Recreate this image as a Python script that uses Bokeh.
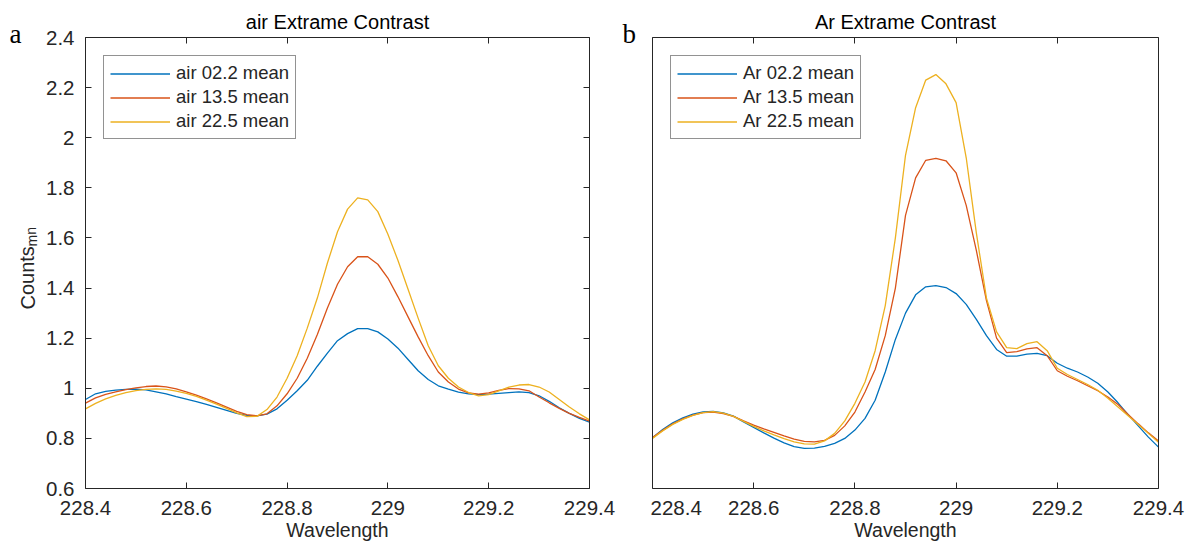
from bokeh.plotting import figure
from bokeh.layouts import row
from bokeh.models import (LinearAxis, FixedTicker, CustomJSTickFormatter, Label,
                          Range1d, Legend, LegendItem)
from bokeh.embed import file_html
from bokeh.resources import INLINE

# ---------------- data ----------------
wavelength = [228.40, 228.42, 228.44, 228.46, 228.48, 228.50, 228.52, 228.54, 228.56, 228.58,
              228.60, 228.62, 228.64, 228.66, 228.68, 228.70, 228.72, 228.74, 228.76, 228.78,
              228.80, 228.82, 228.84, 228.86, 228.88, 228.90, 228.92, 228.94, 228.96, 228.98,
              229.00, 229.02, 229.04, 229.06, 229.08, 229.10, 229.12, 229.14, 229.16, 229.18,
              229.20, 229.22, 229.24, 229.26, 229.28, 229.30, 229.32, 229.34, 229.36, 229.38, 229.40]

air_022 = [0.955, 0.978, 0.988, 0.993, 0.996, 0.997, 0.994, 0.986, 0.978, 0.967,
           0.957, 0.947, 0.936, 0.924, 0.912, 0.900, 0.892, 0.890, 0.897, 0.918,
           0.952, 0.990, 1.032, 1.088, 1.140, 1.190, 1.218, 1.238, 1.238, 1.225,
           1.197, 1.160, 1.115, 1.070, 1.035, 1.010, 0.997, 0.985, 0.978, 0.975,
           0.977, 0.980, 0.983, 0.986, 0.983, 0.970, 0.948, 0.922, 0.900, 0.880, 0.865]
air_135 = [0.941, 0.962, 0.976, 0.986, 0.995, 1.002, 1.007, 1.009, 1.006, 0.998,
           0.986, 0.973, 0.958, 0.942, 0.925, 0.908, 0.895, 0.890, 0.898, 0.930,
           0.978, 1.040, 1.120, 1.215, 1.320, 1.415, 1.485, 1.525, 1.525, 1.495,
           1.440, 1.365, 1.285, 1.205, 1.130, 1.065, 1.025, 0.997, 0.982, 0.977,
           0.982, 0.992, 0.999, 0.998, 0.990, 0.965, 0.942, 0.920, 0.900, 0.884, 0.869]
air_225 = [0.918, 0.940, 0.958, 0.972, 0.983, 0.991, 0.996, 0.998, 0.996, 0.989,
           0.980, 0.968, 0.953, 0.937, 0.920, 0.902, 0.887, 0.888, 0.915, 0.965,
           1.040, 1.130, 1.240, 1.360, 1.500, 1.625, 1.715, 1.760, 1.752, 1.705,
           1.615, 1.510, 1.395, 1.280, 1.170, 1.090, 1.040, 1.005, 0.983, 0.970,
           0.975, 0.990, 1.005, 1.013, 1.015, 1.005, 0.985, 0.955, 0.925, 0.898, 0.874]

ar_022 = [0.803, 0.835, 0.862, 0.882, 0.897, 0.906, 0.908, 0.902, 0.889, 0.866,
          0.844, 0.822, 0.801, 0.782, 0.767, 0.760, 0.761, 0.768, 0.780, 0.800,
          0.833, 0.880, 0.952, 1.065, 1.195, 1.300, 1.373, 1.405, 1.410, 1.402,
          1.378, 1.335, 1.275, 1.210, 1.155, 1.128, 1.128, 1.136, 1.139, 1.130,
          1.100, 1.080, 1.065, 1.045, 1.020, 0.985, 0.942, 0.895, 0.850, 0.805, 0.765]
ar_135 = [0.803, 0.832, 0.858, 0.878, 0.893, 0.903, 0.905, 0.899, 0.888, 0.870,
          0.853, 0.838, 0.824, 0.810, 0.797, 0.788, 0.786, 0.792, 0.812, 0.850,
          0.905, 0.985, 1.075, 1.210, 1.400, 1.690, 1.840, 1.910, 1.918, 1.908,
          1.860, 1.730, 1.550, 1.350, 1.200, 1.142, 1.146, 1.157, 1.162, 1.130,
          1.070, 1.048, 1.030, 1.010, 0.990, 0.965, 0.935, 0.895, 0.858, 0.822, 0.790]
ar_225 = [0.800, 0.830, 0.856, 0.876, 0.892, 0.903, 0.907, 0.901, 0.888, 0.868,
          0.848, 0.830, 0.814, 0.799, 0.786, 0.778, 0.777, 0.790, 0.820, 0.870,
          0.940, 1.025, 1.150, 1.330, 1.600, 1.930, 2.120, 2.230, 2.252, 2.215,
          2.140, 1.920, 1.620, 1.360, 1.225, 1.162, 1.158, 1.178, 1.186, 1.150,
          1.080, 1.055, 1.035, 1.015, 0.992, 0.960, 0.925, 0.890, 0.855, 0.820, 0.785]

x_ticks = [228.4, 228.6, 228.8, 229.0, 229.2, 229.4]
y_ticks = [0.6, 0.8, 1.0, 1.2, 1.4, 1.6, 1.8, 2.0, 2.2, 2.4]

air_names = ["air 02.2 mean", "air 13.5 mean", "air 22.5 mean"]
ar_names = ["Ar 02.2 mean", "Ar 13.5 mean", "Ar 22.5 mean"]
titles = ["air Extrame Contrast", "Ar Extrame Contrast"]
panel_letters = ["a", "b"]
y_label = ["Counts", "mn"]
x_label = "Wavelength"
colors = ["#0072BD", "#D95319", "#EDB120"]

FONT = "Liberation Sans"
AX = "#262626"
FRAME_W = [504, 506]
FRAME_H = 451
TOP, BOTTOM = 37, 58
H = TOP + FRAME_H + BOTTOM

num_fmt = CustomJSTickFormatter(code="return String(Math.round(tick*10)/10);")


def blank():
    return CustomJSTickFormatter(code="return '';")


def style_axis(ax, ticks, show_labels, show_ticks=True):
    ax.ticker = FixedTicker(ticks=ticks if show_ticks else [])
    ax.formatter = num_fmt if show_labels else blank()
    ax.axis_line_color = AX
    ax.axis_line_width = 1
    ax.major_tick_line_color = AX
    ax.major_tick_in = 6
    ax.major_tick_out = 0
    ax.minor_tick_line_color = None
    ax.major_label_text_font = FONT
    ax.major_label_text_font_size = "20.5px" if show_labels else "0px"
    ax.major_label_standoff = 0
    ax.major_label_text_color = AX
    ax.axis_label_text_font = FONT
    ax.axis_label_text_font_size = "19.5px"
    ax.axis_label_text_font_style = "normal"
    ax.axis_label_text_color = AX


def side_strip(width, letter, letter_x):
    """Narrow strip whose y data units equal page pixels; holds the panel letter."""
    f = figure(width=width, height=H, x_range=Range1d(0, width),
               y_range=Range1d(TOP + FRAME_H, TOP),
               output_backend="svg", toolbar_location=None,
               min_border_left=0, min_border_right=0,
               min_border_top=TOP, min_border_bottom=BOTTOM,
               x_axis_location=None, y_axis_location=None)
    f.outline_line_color = None
    f.xgrid.visible = False
    f.ygrid.visible = False
    f.background_fill_color = "white"
    f.border_fill_color = "white"
    f.title.text = letter
    f.title.align = "left"
    f.title.offset = letter_x
    f.title.vertical_align = "bottom"
    f.title.standoff = -22
    f.title.text_font = "Liberation Serif"
    f.title.text_font_size = "27px"
    f.title.text_font_style = "normal"
    f.title.text_color = "#000000"
    return f


def make_panel(idx, series, names, left_border, right_border, show_y):
    p = figure(frame_width=FRAME_W[idx], frame_height=FRAME_H,
               x_range=Range1d(228.4, 229.4), y_range=Range1d(0.6, 2.4),
               output_backend="svg", toolbar_location=None,
               min_border_left=left_border, min_border_right=right_border,
               min_border_top=TOP, min_border_bottom=BOTTOM,
               x_axis_location=None, y_axis_location=None)
    p.outline_line_color = None
    p.xgrid.visible = False
    p.ygrid.visible = False
    p.background_fill_color = "white"
    p.border_fill_color = "white"

    p.title.text = titles[idx]
    p.title.align = "center"
    p.title.text_font = FONT
    p.title.text_font_size = "20px"
    p.title.text_font_style = "normal"
    p.title.text_color = "#000000"
    p.title.standoff = 10

    bottom = LinearAxis(axis_label=x_label)
    style_axis(bottom, x_ticks, True)
    bottom.major_label_standoff = 12
    bottom.axis_label_standoff = 1
    p.add_layout(bottom, "below")
    top = LinearAxis()
    style_axis(top, x_ticks, False)
    p.add_layout(top, "above")
    left = LinearAxis()
    style_axis(left, y_ticks, show_y, show_ticks=show_y)
    left.major_label_standoff = 11 if show_y else 0
    p.add_layout(left, "left")
    right = LinearAxis()
    style_axis(right, y_ticks, False, show_ticks=show_y)
    p.add_layout(right, "right")

    items = []
    for ys, name, c in zip(series, names, colors):
        r = p.line(wavelength, ys, line_color=c, line_width=1.3)
        items.append(LegendItem(label=name, renderers=[r]))
    leg = Legend(items=items, location="top_left")
    leg.margin = 18
    leg.padding = 6
    leg.spacing = 2
    leg.glyph_width = 60
    leg.glyph_height = 21
    leg.label_height = 21
    leg.label_standoff = 6
    leg.label_text_font = FONT
    leg.label_text_font_size = "18.5px"
    leg.label_text_color = AX
    leg.border_line_color = AX
    leg.border_line_width = 1
    leg.background_fill_alpha = 1
    p.add_layout(leg, "center")
    return p


# left strip: panel letter "a" and the y-axis label Counts_mn
fa = side_strip(42, panel_letters[0], 9)
fa.add_layout(Label(x=27, y=309, text=y_label[0], angle=1.5708, text_align="left",
                    text_baseline="alphabetic", text_font=FONT, text_font_size="20px",
                    text_color=AX))
fa.add_layout(Label(x=31, y=246, text=y_label[1], angle=1.5708, text_align="left",
                    text_baseline="alphabetic", text_font=FONT, text_font_size="14px",
                    text_color=AX))

p1 = make_panel(0, [air_022, air_135, air_225], air_names, 43, 31, True)
fb = side_strip(30, panel_letters[1], 2)
p2 = make_panel(1, [ar_022, ar_135, ar_225], ar_names, 2, 28, False)

layout = row(fa, p1, fb, p2, spacing=0)
open("out.html", "w").write(file_html(layout, INLINE))
